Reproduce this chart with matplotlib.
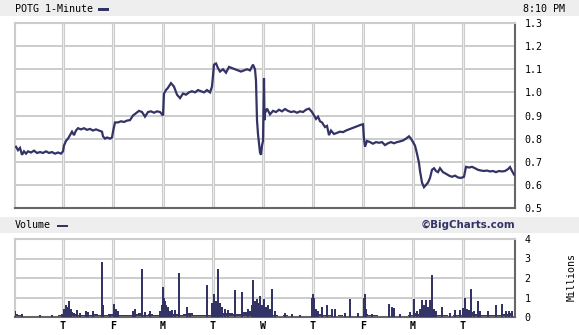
import matplotlib
matplotlib.use("Agg")
import matplotlib.pyplot as plt
from matplotlib.patches import Rectangle

# ---------------- data ----------------
price_t = [0.06,0.10,0.14,0.18,0.22,0.26,0.30,0.36,0.42,0.48,0.54,0.60,0.66,0.72,0.78,0.84,0.90,0.96,
           1.00,1.02,1.06,1.10,1.14,1.18,1.22,1.26,1.30,1.36,1.42,1.48,1.54,1.60,1.66,1.72,1.78,1.80,1.84,1.88,1.94,1.98,
           2.00,2.04,2.10,2.16,2.22,2.28,2.34,2.40,2.46,2.52,2.58,2.64,2.70,2.76,2.82,2.88,2.94,
           3.00,3.02,3.06,3.10,3.16,3.22,3.28,3.34,3.40,3.46,3.52,3.58,3.64,3.70,3.76,3.82,3.88,3.94,3.98,
           4.02,4.06,4.10,4.14,4.20,4.26,4.32,4.38,4.44,4.50,4.56,4.62,4.68,4.74,4.80,4.84,4.86,4.88,4.90,4.92,4.94,4.96,4.98,
           5.00,5.02,5.03,5.04,5.08,5.14,5.20,5.26,5.32,5.38,5.44,5.50,5.56,5.62,5.68,5.74,5.80,5.86,5.92,5.98,
           6.02,6.06,6.10,6.14,6.18,6.24,6.28,6.32,6.36,6.42,6.48,6.54,6.60,6.66,6.72,6.78,6.84,6.90,6.96,
           7.00,7.02,7.04,7.08,7.14,7.20,7.26,7.32,7.38,7.44,7.50,7.56,7.62,7.68,7.74,7.80,7.86,7.92,7.96,
           8.00,8.04,8.08,8.12,8.14,8.18,8.22,8.26,8.30,8.34,8.38,8.42,8.46,8.50,8.54,8.60,8.66,8.72,8.78,8.84,8.90,8.96,
           9.02,9.06,9.12,9.18,9.24,9.30,9.36,9.42,9.48,9.54,9.60,9.66,9.72,9.78,9.84,9.90,9.94,9.98,10.02]
price_v = [0.765,0.75,0.76,0.73,0.745,0.735,0.745,0.74,0.748,0.738,0.742,0.738,0.745,0.738,0.742,0.735,0.74,0.735,
           0.745,0.77,0.79,0.80,0.815,0.83,0.815,0.835,0.845,0.84,0.845,0.838,0.842,0.835,0.84,0.835,0.83,0.81,0.80,0.805,0.80,0.805,
           0.83,0.87,0.87,0.875,0.872,0.878,0.88,0.90,0.91,0.92,0.915,0.895,0.915,0.918,0.912,0.918,0.915,
           0.90,0.995,1.01,1.02,1.04,1.025,0.99,0.975,0.995,0.99,1.0,1.005,1.0,1.01,1.005,1.0,1.01,1.0,1.025,
           1.12,1.125,1.105,1.09,1.10,1.085,1.11,1.105,1.10,1.095,1.09,1.095,1.10,1.095,1.12,1.10,1.05,0.88,0.82,0.78,0.74,0.73,0.77,
           0.79,1.06,0.88,0.91,0.93,0.905,0.92,0.915,0.925,0.918,0.928,0.92,0.915,0.918,0.912,0.918,0.915,0.925,0.93,0.915,
           0.90,0.885,0.895,0.875,0.87,0.85,0.855,0.815,0.835,0.82,0.825,0.83,0.828,0.835,0.84,0.845,0.85,0.855,0.86,
           0.862,0.80,0.765,0.79,0.785,0.778,0.785,0.782,0.785,0.772,0.78,0.785,0.78,0.785,0.788,0.792,0.80,0.81,0.80,
           0.785,0.77,0.735,0.695,0.66,0.61,0.59,0.60,0.61,0.63,0.665,0.672,0.66,0.655,0.672,0.655,0.648,0.64,0.635,0.64,0.632,0.63,
           0.635,0.678,0.675,0.678,0.672,0.665,0.662,0.66,0.662,0.658,0.66,0.655,0.66,0.658,0.66,0.668,0.677,0.66,0.645]

# background volume, one value per 0.1 day (millions)
vol_base = [0.15,0.08,0.05,0.05,0.04,0.03,0.05,0.04,0.06,0.08,
            0.20,0.25,0.15,0.10,0.12,0.08,0.15,0.10,0.12,0.15,
            0.20,0.12,0.10,0.08,0.15,0.20,0.10,0.15,0.12,0.10,
            0.35,0.25,0.15,0.12,0.15,0.20,0.10,0.08,0.10,0.12,
            0.30,0.25,0.20,0.20,0.15,0.15,0.25,0.30,0.35,0.20,
            0.15,0.10,0.08,0.06,0.08,0.05,0.05,0.06,0.05,0.06,
            0.20,0.15,0.12,0.10,0.06,0.08,0.05,0.05,0.06,0.05,
            0.15,0.10,0.08,0.06,0.05,0.06,0.05,0.05,0.06,0.08,
            0.20,0.15,0.25,0.20,0.12,0.10,0.08,0.06,0.08,0.10,
            0.20,0.25,0.15,0.12,0.10,0.08,0.12,0.10,0.15,0.20]
vol_t = [0.04,0.18,0.54,0.78,0.98,1.02,1.06,1.08,1.12,1.16,1.22,1.28,1.34,1.46,1.50,1.60,1.78,1.80,1.94,
         2.02,2.06,2.10,2.40,2.44,2.58,2.64,2.74,2.94,2.98,3.00,3.02,3.04,3.06,3.10,3.14,3.18,3.24,3.32,3.48,3.54,3.88,3.98,
         4.02,4.04,4.06,4.10,4.14,4.18,4.24,4.30,4.44,4.58,4.70,4.78,4.80,4.84,4.88,4.92,4.94,4.98,
         5.02,5.06,5.10,5.14,5.18,5.24,5.44,5.58,5.74,5.98,6.00,6.02,6.06,6.10,6.18,6.28,6.38,6.44,6.64,6.74,6.90,
         7.02,7.04,7.06,7.18,7.52,7.58,7.62,7.74,7.94,8.02,8.08,8.14,8.18,8.22,8.26,8.30,8.34,8.38,8.42,8.46,8.58,8.74,8.84,8.94,
         9.00,9.04,9.08,9.12,9.16,9.22,9.30,9.34,9.50,9.66,9.78,9.86,9.92,9.98]
vol_v = [0.3,0.15,0.1,0.12,0.15,0.4,0.6,0.5,0.8,0.4,0.2,0.35,0.2,0.3,0.25,0.3,2.8,0.6,0.15,
         0.65,0.4,0.3,0.3,0.4,2.45,0.25,0.3,0.3,0.6,1.55,1.0,0.8,0.6,0.5,0.3,0.35,0.35,2.25,0.5,0.2,1.65,0.7,
         1.2,0.6,0.8,2.45,0.7,0.5,0.4,0.35,1.4,1.3,0.4,0.6,1.9,0.8,0.9,0.7,1.1,0.6,
         0.9,0.5,0.6,0.4,1.45,0.3,0.2,0.15,0.12,1.0,1.2,0.95,0.4,0.3,0.5,0.6,0.4,0.4,0.2,0.9,0.2,
         1.0,1.2,0.4,0.15,0.65,0.5,0.45,0.15,0.25,0.9,0.3,0.4,0.85,0.6,0.85,0.5,0.85,2.15,0.4,0.3,0.5,0.2,0.35,0.35,
         0.45,1.0,0.4,0.35,1.45,0.3,0.8,0.3,0.3,0.6,0.65,0.3,0.3,0.3]

day_ticks = [1, 2, 3, 4, 5, 6, 7, 8, 9]
day_labels = ["T", "F", "M", "T", "W", "T", "F", "M", "T"]
price_ticks = [0.5, 0.6, 0.7, 0.8, 0.9, 1.0, 1.1, 1.2, 1.3]
vol_ticks = [0, 1, 2, 3, 4]

# ---------------- style ----------------
W, H = 579, 335
NAVY = "#333366"
GRID = "#cccccc"
MONO = "DejaVu Sans Mono"
fig = plt.figure(figsize=(W / 100, H / 100), dpi=100)
fig.patch.set_facecolor("white")

def fx(px):
    return px / W

def fy(py):
    return 1 - py / H

# header bands
fig.patches.append(Rectangle((0, fy(16)), 1, 16 / H, transform=fig.transFigure,
                             facecolor="#eeeeee", edgecolor="none", zorder=0))
fig.patches.append(Rectangle((0, fy(233)), 1, 16 / H, transform=fig.transFigure,
                             facecolor="#eeeeee", edgecolor="none", zorder=0))
fig.text(fx(15), fy(8.5), "POTG 1-Minute", family=MONO, fontsize=7.2, va="center", ha="left", color="black")
fig.patches.append(Rectangle((fx(98), fy(11)), 11 / W, 2.5 / H, transform=fig.transFigure,
                             facecolor=NAVY, edgecolor="none"))
fig.text(fx(523), fy(8.5), "8:10 PM", family=MONO, fontsize=7.2, va="center", ha="left", color="black")
fig.text(fx(15), fy(225), "Volume", family=MONO, fontsize=7.2, va="center", ha="left", color="black")
fig.patches.append(Rectangle((fx(57), fy(227)), 11 / W, 2.5 / H, transform=fig.transFigure,
                             facecolor=NAVY, edgecolor="none"))
fig.text(fx(515), fy(225), "©BigCharts.com", family="DejaVu Sans", fontweight="bold",
         fontsize=7.4, va="center", ha="right", color=NAVY)
fig.text(fx(572), fy(277), "Millions", family=MONO, fontsize=7.2, rotation=90,
         va="center", ha="center", color="black")

def style_axes(ax):
    for s in ["left", "top"]:
        ax.spines[s].set_color(GRID)
        ax.spines[s].set_linewidth(1.5)
    for s in ["right", "bottom"]:
        ax.spines[s].set_color("#666666")
        ax.spines[s].set_linewidth(1.5)
    ax.yaxis.tick_right()
    ax.tick_params(axis="y", length=0, pad=7, labelsize=7.2)
    ax.set_xlim(0.04, 10.04)
    for d in day_ticks:
        ax.axvline(d, color=GRID, lw=2.2, zorder=0.5)
        ax.axvline(d, color="#f0f0f0", lw=0.6, zorder=0.6)

# price axes
axp = fig.add_axes([fx(15), fy(208), (515 - 15) / W, (208 - 23) / H])
style_axes(axp)
axp.set_ylim(0.5, 1.3)
axp.set_yticks(price_ticks)
axp.set_yticklabels(["%.1f" % v for v in price_ticks], family=MONO)
for v in price_ticks[1:-1]:
    axp.axhline(v, color=GRID, lw=1.4, zorder=0.4)
axp.set_xticks([])
axp.plot(price_t, price_v, color=NAVY, lw=1.6, zorder=3, solid_joinstyle="miter")

# volume axes
axv = fig.add_axes([fx(15), fy(317), (515 - 15) / W, (317 - 239) / H])
style_axes(axv)
axv.set_ylim(0, 4)
axv.set_yticks(vol_ticks)
axv.set_yticklabels([str(v) for v in vol_ticks], family=MONO)
for v in vol_ticks[1:-1]:
    axv.axhline(v, color=GRID, lw=1.4, zorder=0.4)
base_x = [i * 0.1 for i in range(len(vol_base))]
axv.bar(base_x, vol_base, width=0.1, align="edge", color=NAVY, linewidth=0, zorder=2)
axv.bar(vol_t, vol_v, width=0.028, color=NAVY, linewidth=0, zorder=3)
axv.set_xticks(day_ticks)
axv.set_xticklabels(day_labels, family=MONO, fontweight="bold", fontsize=7.2)
axv.tick_params(axis="x", length=0, pad=3)

fig.savefig("out.png", dpi=100)
